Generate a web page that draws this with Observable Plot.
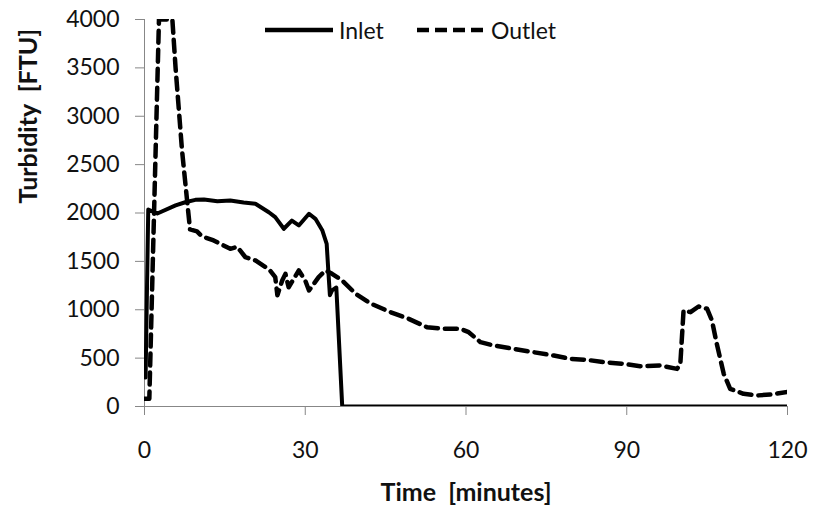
<!DOCTYPE html>
<html>
<head>
<meta charset="utf-8">
<script src="https://cdn.jsdelivr.net/npm/d3@7"></script>
<script src="https://cdn.jsdelivr.net/npm/@observablehq/plot@0.6"></script>
<style>
  html, body { margin: 0; padding: 0; background: #fff; }
  #wrap { position: relative; width: 819px; height: 516px; }
  #legend { position: absolute; left: 0; top: 0; font-family: Lato, sans-serif; font-size: 23px; color: #111; }
  #legend .item { position: absolute; top: 16px; display: flex; align-items: center; height: 28px; }
  #legend span { margin-left: 6px; }
</style>
</head>
<body>
<div id="wrap">
  <div id="chart"></div>
  <div id="legend"></div>
</div>
<script>
// Series: time (minutes) and turbidity (FTU)
const inletTime  = [0.2, 0.7, 2.4, 5.8, 7.6, 9.5, 11.1, 13.6, 16.0, 18.5, 20.7, 23.2, 24.4, 26.0, 27.5, 28.8, 30.7, 31.9, 33.2, 34.0, 34.3, 34.6, 35.0, 35.8, 36.9, 120];
const inletValue = [300, 2036, 1995, 2078, 2111, 2136, 2140, 2122, 2129, 2108, 2095, 2008, 1957, 1837, 1922, 1871, 1992, 1940, 1819, 1682, 1406, 1150, 1200, 1230, 0, 0];

const outletTime  = [0, 0.9, 2.7, 5.2, 5.8, 7.0, 8.0, 8.5, 9.8, 10.7, 12.9, 16.0, 17.3, 18.8, 20.7, 22.6, 23.5, 24.4, 24.8, 25.7, 26.3, 26.9, 28.8, 30.0, 30.7, 31.6, 32.5, 33.8, 35.0, 36.9, 39.4, 42.0, 45.9, 49.3, 52.7, 55.8, 59.0, 60.5, 62.7, 65.2, 68.9, 72.6, 76.4, 79.5, 82.6, 85.7, 89.4, 92.5, 96.3, 99.4, 100.0, 100.6, 101.9, 103.4, 105.0, 105.9, 106.8, 108.1, 109.3, 111.8, 114.3, 116.8, 120];
const outletValue = [80, 80, 4000, 4000, 3500, 2650, 2100, 1830, 1810, 1760, 1716, 1630, 1650, 1545, 1510, 1440, 1400, 1337, 1150, 1302, 1371, 1233, 1406, 1302, 1199, 1268, 1337, 1406, 1371, 1302, 1165, 1070, 975, 906, 820, 803, 803, 768, 665, 630, 596, 561, 527, 493, 482, 458, 441, 417, 424, 389, 441, 992, 975, 1034, 1010, 889, 648, 338, 183, 131, 114, 124, 150];

const xTicks = [0, 30, 60, 90, 120];
const yTicks = [0, 500, 1000, 1500, 2000, 2500, 3000, 3500, 4000];
const seriesNames = ["Inlet", "Outlet"];
const xTitle = "Time  [minutes]";
const yTitle = "Turbidity  [FTU]";

const inlet = inletTime.map((t, i) => ({t, v: inletValue[i]}));
const outlet = outletTime.map((t, i) => ({t, v: outletValue[i]}));

const axisGray = "#878787";
const textColor = "#111";

const chart = Plot.plot({
  width: 819,
  height: 516,
  marginLeft: 144,
  marginRight: 32,
  marginTop: 19,
  marginBottom: 110,
  x: {domain: [0, 120]},
  y: {domain: [0, 4000]},
  style: {fontFamily: "Lato, sans-serif", fontSize: "23px", color: textColor, background: "white", overflow: "visible"},
  marks: [
    Plot.axisX(xTicks, {tickSize: 9, tickPadding: 26, stroke: axisGray, fill: textColor, label: null, fontSize: 23, tickFormat: d => String(d)}),
    Plot.axisY(yTicks, {tickSize: 9, tickPadding: 16, stroke: axisGray, fill: textColor, label: null, fontSize: 23, tickFormat: d => String(d)}),
    Plot.ruleY([0], {stroke: axisGray}),
    Plot.ruleX([0], {stroke: axisGray}),
    Plot.line(outlet, {x: "t", y: "v", stroke: "black", strokeWidth: 4.5, strokeDasharray: "12,7", strokeLinejoin: "round", clip: true}),
    Plot.line(inlet, {x: "t", y: "v", stroke: "black", strokeWidth: 4, strokeLinejoin: "round", clip: true}),
    Plot.text([xTitle], {text: d => d, frameAnchor: "bottom", dy: 94, fontWeight: "bold", fontSize: 25, fill: textColor}),
    Plot.text([yTitle], {text: d => d, frameAnchor: "left", rotate: -90, dx: -116, dy: -9.5, fontWeight: "bold", fontSize: 25, fill: textColor})
  ]
});
document.getElementById("chart").appendChild(chart);

// Legend inside the plot area, top
const legend = document.getElementById("legend");
const legendItems = [
  {name: seriesNames[0], left: 265, dash: null},
  {name: seriesNames[1], left: 417, dash: "12,6"}
];
for (const it of legendItems) {
  const div = document.createElement("div");
  div.className = "item";
  div.style.left = it.left + "px";
  div.innerHTML = `<svg width="68" height="8"><line x1="0" x2="68" y1="4" y2="4" stroke="black" stroke-width="4.5" ${it.dash ? `stroke-dasharray="${it.dash}"` : ""}/></svg><span>${it.name}</span>`;
  legend.appendChild(div);
}
</script>
</body>
</html>
